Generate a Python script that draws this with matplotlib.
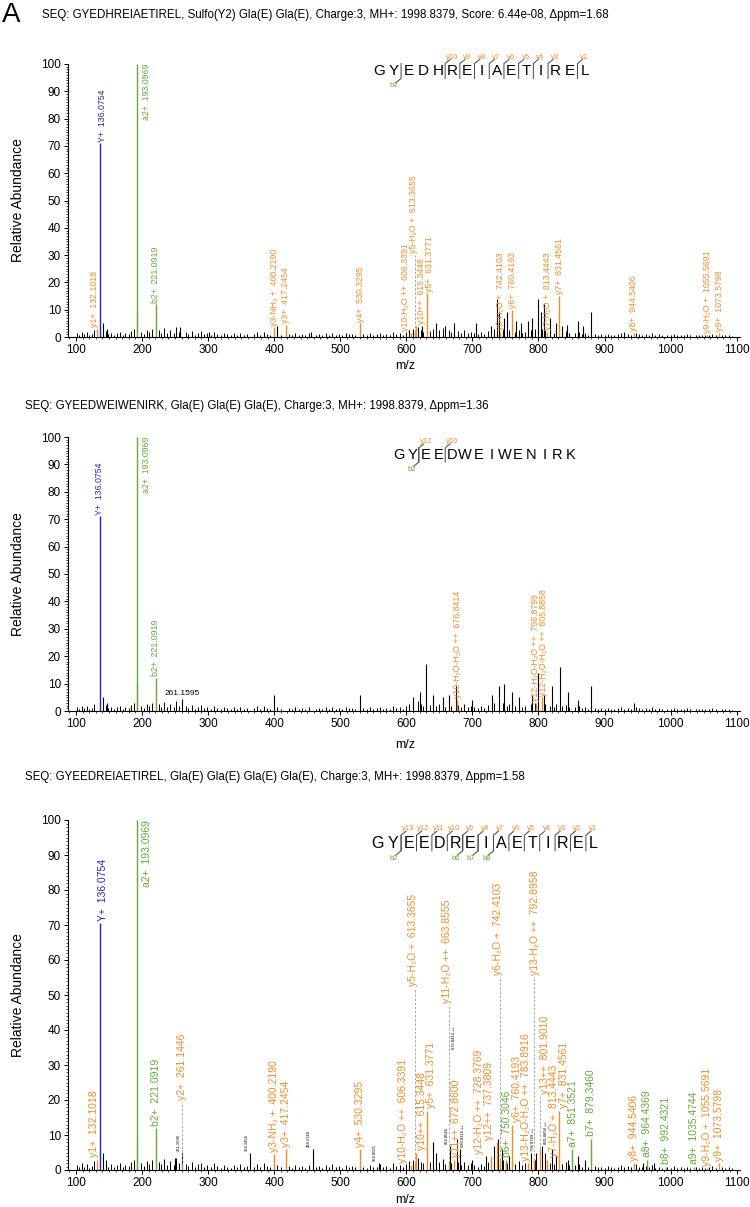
import numpy as np
import matplotlib.pyplot as plt
from matplotlib.ticker import MultipleLocator

plt.rcParams['font.family'] = ['Liberation Sans', 'DejaVu Sans']

ORANGE = '#f08c28'
GREEN = '#64aa3c'
BLUE = '#2323c0'

W, H = 750, 1207
XMIN, XMAX = 88, 1105

titles = ['SEQ: GYEDHREIAETIREL, Sulfo(Y2) Gla(E) Gla(E), Charge:3, MH+: 1998.8379, Score: 6.44e-08, \u0394ppm=1.68',
          'SEQ: GYEEDWEIWENIRK, Gla(E) Gla(E) Gla(E), Charge:3, MH+: 1998.8379, \u0394ppm=1.36',
          'SEQ: GYEEDREIAETIREL, Gla(E) Gla(E) Gla(E) Gla(E), Charge:3, MH+: 1998.8379, \u0394ppm=1.58']
seqs = ['GYEDHREIAETIREL', 'GYEEDWEIWENIRK', 'GYEEDREIAETIREL']
b_cuts = [[2], [2], [2, 6, 7, 8]]
y_cuts = [[10, 9, 8, 7, 6, 5, 4, 3, 1], [12, 10], list(range(13, 0, -1))]

# annotated fragment ions
p1_ion = ['y1+', 'Y+', 'a2+', 'b2+', 'y3-NH\u2083 +', 'y3+', 'y4+', 'y10-H\u2082O ++', 'y5-H\u2082O +', 'y10++',
          'y5+', 'y6-H\u2082O +', 'y6+', 'y7-H\u2082O +', 'y7+', 'y8+', 'y9-H\u2082O +', 'y9+']
p1_mz = [132.1018, 136.0754, 193.0969, 221.0919, 400.2190, 417.2454, 530.3295, 606.3391, 613.3655, 615.3448,
         631.3771, 742.4103, 760.4193, 813.4443, 831.4561, 944.5406, 1055.5691, 1073.5798]
p1_int = [3, 71, 100, 12, 3.5, 4.5, 5, 1.5, 2, 4, 16, 2, 10, 2, 15, 1.5, 0.8, 1.5]

p2_ion = ['Y+', 'a2+', 'b2+', 'y10-H\u2082O-H\u2082O ++', 'y12-H\u2082O-H\u2082O ++', 'y12-H\u2082O-H\u2082O ++']
p2_mz = [136.0754, 193.0969, 221.0919, 676.8414, 796.8799, 805.8858]
p2_int = [71, 100, 12, 4, 3, 5]

p3_ion = ['y1+', 'Y+', 'a2+', 'b2+', 'y2+', 'y3-NH\u2083 +', 'y3+', 'y4+', 'y10-H\u2082O ++', 'y5-H\u2082O +',
          'y10++', 'y5+', 'y11-H\u2082O ++', 'y11++', 'y12-H\u2082O ++', 'y12++', 'y6-H\u2082O +', 'b6+', 'y6+',
          'y13-H\u2082O-H\u2082O ++', 'y13-H\u2082O ++', 'y13++', 'y7-H\u2082O +', 'y7+', 'a7+', 'b7+', 'y8+',
          'a8+', 'b8+', 'a9+', 'y9-H\u2082O +', 'y9+']
p3_mz = [132.1018, 136.0754, 193.0969, 221.0919, 261.1446, 400.2190, 417.2454, 530.3295, 606.3391, 613.3655,
         615.3448, 631.3771, 663.8555, 672.8600, 728.3769, 737.3809, 742.4103, 750.3046, 760.4193,
         783.8916, 792.8958, 801.9010, 813.4443, 831.4561, 851.3521, 879.3460, 944.5406,
         964.4369, 992.4321, 1035.4744, 1055.5691, 1073.5798]
p3_int = [3, 70.5, 100, 12, 1.5, 4.5, 6, 6, 1.5, 2, 5, 17, 2, 3, 4, 8, 3, 3, 13,
          2, 3, 6, 3, 17, 6, 9, 2, 3, 1, 1, 0.5, 2]

# labels raised above their neighbours (dashed leader)
lifts = [{'y5-H\u2082O +': 28},
         {},
         {'y2+': 18, 'y5-H\u2082O +': 50, 'y11-H\u2082O ++': 45, 'y6-H\u2082O +': 52, 'y13-H\u2082O ++': 52, 'y13++': 15}]

# unassigned peaks
p1_bg_mz = [141.1, 147.0, 192.6, 257.0, 302.0, 404.0, 455.0, 623.0, 645.0, 658.0, 672.0, 705.0, 728.0, 736.5,
            740.0, 748.0, 752.0, 766.0, 774.0, 784.0, 790.0, 799.5, 804.0, 808.0, 818.0, 827.0, 836.0, 843.0,
            860.0, 868.0, 880.0, 930.0]
p1_bg_int = [5, 3, 9.5, 3.5, 2, 4, 2, 4, 5, 4, 5, 5, 4, 14, 9, 7, 9, 6, 5, 6, 7, 14, 9, 12, 7, 5, 4, 4.5,
             6, 4, 9, 2]
p2_bg_mz = [141.1, 147.0, 192.6, 261.1595, 400.0, 530.0, 610.0, 620.0, 630.0, 640.0, 655.0, 665.0, 675.0, 700.0,
            730.0, 740.0, 748.0, 760.0, 770.0, 790.0, 800.0, 808.0, 820.0, 832.0, 845.0, 860.0, 880.0, 945.0]
p2_bg_int = [5, 3, 9.5, 4.5, 6, 6, 5, 7, 17, 6, 5, 6, 9, 4, 6, 9, 10, 7, 5, 6, 14, 6, 9, 16, 7, 4, 9, 3]
p3_bg_mz = [141.1, 146.0, 192.6, 250.0, 261.1596, 364.1856, 458.1748, 558.0025, 640.0, 645.0, 666.8546,
            676.8414, 680.8316, 700.0, 720.0, 733.0, 739.5, 745.5, 755.0, 788.0, 796.8799, 805.8858, 810.0,
            820.0, 826.0, 845.0, 860.0, 870.0, 958.0, 975.0]
p3_bg_int = [5, 3, 9.5, 3.5, 5, 5, 6, 2, 8, 5, 7, 9, 6, 3, 4, 7, 9, 6, 4, 5, 5, 7, 5, 6, 4, 3, 4, 3, 2, 2]

p3_tag_mz = [261.1596, 364.1856, 458.1748, 558.0025, 666.8546, 676.8414, 680.8316, 796.8799, 805.8858]
p3_tag_txt = ['261.1596', '364.1856', '458.1748', '558.0025', '666.8546', '676.8414 ++', '680.8316 ++',
              '796.8799 ++', '805.8858 ++']
p3_tag_int = [5, 5, 6, 2, 7, 9, 6, 5, 7]

# low-level noise
noise_mz = [102, 105, 109, 112, 116, 120, 124, 128, 145, 149, 153, 158, 162, 167, 171, 175, 180, 184, 188, 198,
            203, 207, 211, 215, 225, 229, 233, 238, 243, 248, 252, 256, 266, 270, 275, 280, 284, 289, 294, 299,
            304, 309, 314, 319, 324, 329, 334, 339, 344, 349, 354, 359, 369, 374, 379, 384, 389, 394, 405, 410,
            422, 427, 432, 437, 442, 447, 452, 463, 468, 473, 478, 483, 488, 493, 498, 503, 508, 513, 518, 523,
            535, 540, 545, 550, 555, 560, 565, 570, 575, 580, 585, 590, 595, 600, 604, 610, 618, 622, 626, 636,
            641, 645, 650, 655, 659, 664, 668, 678, 683, 688, 693, 698, 703, 708, 713, 718, 723, 733, 747, 752,
            756, 765, 770, 775, 780, 788, 795, 805, 810, 818, 823, 827, 836, 841, 846, 856, 861, 866, 871, 875,
            885, 890, 895, 900, 905, 910, 915, 920, 925, 930, 935, 940, 948, 952, 957, 962, 967, 972, 977, 982,
            987, 995, 1000, 1005, 1010, 1015, 1020, 1025, 1030, 1038, 1043, 1048, 1052, 1058, 1063, 1068, 1078,
            1083, 1088, 1093]
noise_int = [1.5, 0.8, 2.0, 1.0, 1.8, 0.7, 1.2, 2.5, 2.2, 1.0, 1.6, 0.8, 1.3, 2.0, 0.9, 1.5, 1.1, 2.2, 3.0, 2.0,
             1.2, 2.6, 1.8, 3.0, 2.4, 1.6, 3.2, 1.3, 2.6, 1.5, 3.5, 2.0, 1.7, 1.2, 2.3, 0.9, 1.6, 2.1, 1.0, 1.4,
             0.8, 2.0, 1.1, 0.7, 1.5, 1.0, 0.6, 1.3, 0.9, 1.6, 0.8, 1.2, 1.0, 1.7, 0.8, 2.0, 1.1, 0.9, 1.4, 0.8,
             1.2, 0.7, 1.5, 0.9, 1.1, 0.6, 1.3, 0.8, 1.2, 0.7, 1.4, 0.9, 1.6, 0.8, 1.1, 0.7, 1.5, 1.0, 1.2, 0.8,
             1.0, 0.7, 1.3, 0.8, 1.0, 1.6, 0.9, 1.2, 0.7, 2.0, 1.1, 1.5, 0.9, 1.8, 2.5, 3.0, 3.5, 2.4, 2.0, 2.2,
             3.0, 1.8, 2.4, 3.2, 1.6, 2.6, 2.0, 2.2, 1.5, 2.4, 1.3, 2.0, 1.5, 1.0, 1.8, 1.2, 2.2, 2.8, 3.0, 2.0,
             2.5, 1.8, 2.6, 1.4, 2.0, 2.4, 2.8, 3.0, 2.5, 2.0, 1.6, 2.4, 1.8, 2.2, 1.5, 1.3, 1.8, 1.0, 1.4, 0.9,
             1.2, 0.8, 1.0, 0.7, 1.2, 0.8, 0.6, 1.0, 1.4, 0.8, 1.1, 0.9, 1.6, 1.0, 0.8, 1.2, 0.9, 1.4, 0.7, 1.0,
             0.6, 0.9, 0.7, 1.1, 0.6, 0.9, 0.7, 1.0, 0.6, 0.8, 0.6, 0.9, 0.7, 0.8, 1.2, 0.7, 0.9,
             0.6, 0.8, 0.5]


def ion_color(ion):
    if ion.startswith('Y'):
        return BLUE
    if ion[0] in 'ab':
        return GREEN
    return ORANGE


def style(ax):
    ax.set_xlim(XMIN, XMAX)
    ax.set_ylim(0, 100)
    for s in ['top', 'right']:
        ax.spines[s].set_visible(False)
    for s in ['left', 'bottom']:
        ax.spines[s].set_linewidth(0.8)
    ax.xaxis.set_major_locator(MultipleLocator(100))
    ax.xaxis.set_minor_locator(MultipleLocator(10))
    ax.yaxis.set_major_locator(MultipleLocator(10))
    ax.yaxis.set_minor_locator(MultipleLocator(1))
    ax.tick_params(which='major', length=3, width=0.7, labelsize=8.5, pad=2)
    ax.tick_params(which='minor', length=1.5, width=0.5)
    ax.set_ylabel('Relative Abundance', fontsize=10, labelpad=12)


def annotate(ax, mzs, ints, ions, fs, lift, aw, ah):
    ux = (XMAX - XMIN) / aw
    uy = 100 / ah
    free = []
    for m, h, ion in zip(mzs, ints, ions):
        col = ion_color(ion)
        ax.vlines(m, 0, h, colors=col, lw=1.0, zorder=3)
        txt = f'{ion}  {m:.4f}'
        lf = lift.get(ion, 0)
        length = len(txt) * fs * 1.389 * 0.5 * uy
        if h + lf + length > 100:
            ax.text(m + 5 * ux, h, txt, rotation=90, ha='left', va='top', fontsize=fs, color=col)
        else:
            free.append([m, h, txt, col, lf])
    free.sort(key=lambda t: t[0])
    pos = np.array([(t[0] - XMIN) / ux for t in free])
    gap = fs * 1.25
    for _ in range(300):
        for i in range(len(pos) - 1):
            d = pos[i + 1] - pos[i]
            if d < gap:
                s = (gap - d) / 2
                pos[i] -= s
                pos[i + 1] += s
    for p, (m, h, txt, col, lf) in zip(pos, free):
        if lf:
            ax.vlines(m, h, h + lf, colors='#9a9a9a', linestyles=(0, (3, 2)), lw=0.6)
        ax.text(XMIN + p * ux, h + lf + 0.6, txt, rotation=90, ha='center', va='bottom',
                fontsize=fs, color=col)


def draw_seq(ax, seq, x0, y0, step, bc, yc, fs, aw, ah):
    kw = dict(transform=ax.transAxes, clip_on=False)
    for i, ch in enumerate(seq):
        ax.text(x0 + i * step / aw, y0, ch, ha='center', va='center', fontsize=fs, **kw)
    hh = fs * 0.68 / ah
    for n in bc:
        xc = x0 + (n - 0.5) * step / aw
        ax.plot([xc, xc, xc - 5 / aw], [y0 + hh, y0 - hh, y0 - hh - 4 / ah], color='#444', lw=0.7, **kw)
        ax.text(xc - 7 / aw, y0 - hh - 4 / ah, f'b{n}', ha='center', va='top', fontsize=5.5, color=GREEN, **kw)
    for m in yc:
        xc = x0 + (len(seq) - m - 0.5) * step / aw
        ax.plot([xc, xc, xc + 5 / aw], [y0 - hh, y0 + hh, y0 + hh + 4 / ah], color='#444', lw=0.7, **kw)
        ax.text(xc + 7 / aw, y0 + hh + 3 / ah, f'y{m}', ha='center', va='bottom', fontsize=5.5, color=ORANGE, **kw)


fig = plt.figure(figsize=(W / 100, H / 100), dpi=100)

panels = [(64, 337), (437, 711), (820, 1170)]
title_pos = [(42, 15), (25, 406), (25, 777)]
mz_label_y = [366, 745, 1200]
seq_pos = [(379, 71, 14.7, 11), (399, 455, 13.2, 10.5), (378, 843, 15.4, 11.5)]
ion_data = [(p1_mz, p1_int, p1_ion), (p2_mz, p2_int, p2_ion), (p3_mz, p3_int, p3_ion)]
bg_data = [(p1_bg_mz, p1_bg_int), (p2_bg_mz, p2_bg_int), (p3_bg_mz, p3_bg_int)]
label_fs = [6.3, 6.3, 7.5]

fig.text(2 / W, 1 - 15 / H, 'A', fontsize=20, ha='left', va='center')

for k, (top, bot) in enumerate(panels):
    ax = fig.add_axes([68 / W, 1 - bot / H, 672 / W, (bot - top) / H])
    aw, ah = 672, bot - top
    style(ax)
    ax.vlines(noise_mz, 0, noise_int, colors='black', lw=0.7)
    ax.vlines(bg_data[k][0], 0, bg_data[k][1], colors='black', lw=0.8)
    annotate(ax, *ion_data[k], label_fs[k], lifts[k], aw, ah)
    sx, sy, step, sfs = seq_pos[k]
    draw_seq(ax, seqs[k], (sx - 68) / aw, (bot - sy) / ah, step, b_cuts[k], y_cuts[k], sfs, aw, ah)
    fig.text(title_pos[k][0] / W, 1 - title_pos[k][1] / H, titles[k], fontsize=8.3, ha='left', va='center')
    fig.text(405 / W, 1 - mz_label_y[k] / H, 'm/z', fontsize=9, ha='center', va='center')

    if k == 1:
        ax.text(261.1595, 5, '261.1595', ha='center', va='bottom', fontsize=6)
    if k == 2:
        for m, t, h in zip(p3_tag_mz, p3_tag_txt, p3_tag_int):
            if t.startswith('676'):
                ax.text(m - 2, h + 25.5, t, rotation=90, ha='right', va='bottom', fontsize=3)
            elif t.startswith('680') or t.startswith('805'):
                ax.text(m + 2, h + 0.5, t, rotation=90, ha='left', va='bottom', fontsize=3)
            else:
                ax.text(m - 2, h + 0.5, t, rotation=90, ha='right', va='bottom', fontsize=3)

fig.savefig('out.png', dpi=100)
